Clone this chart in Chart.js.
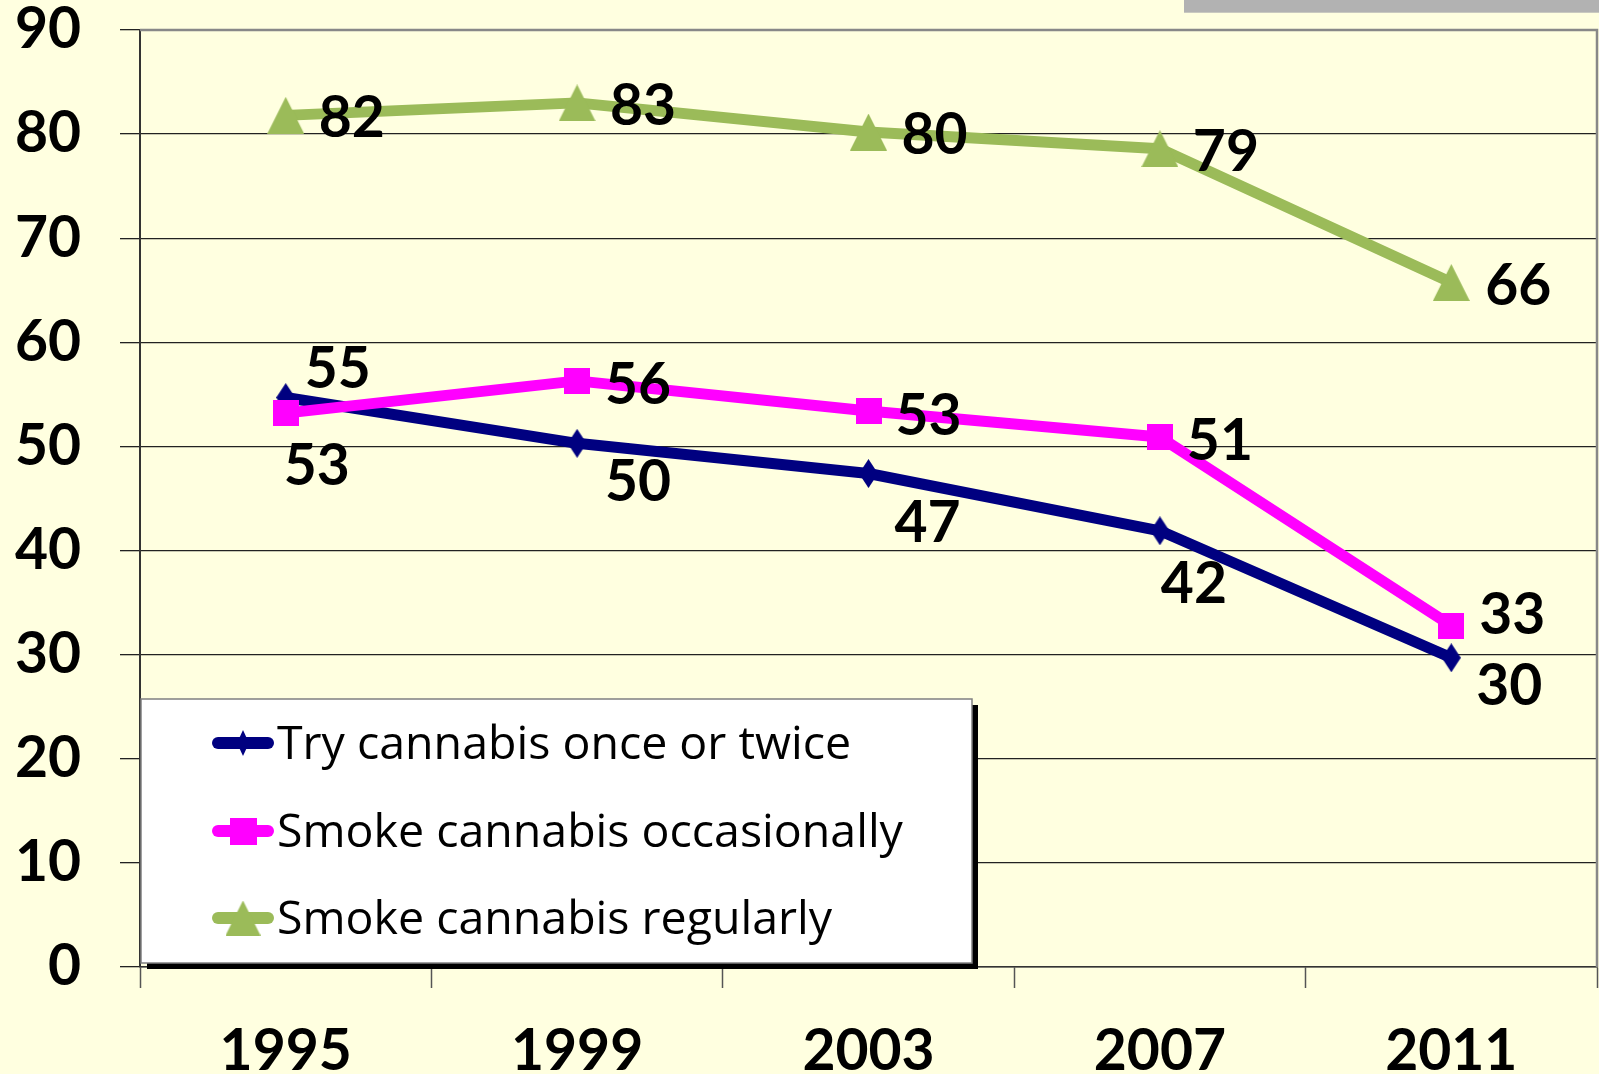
<!DOCTYPE html>
<html><head><meta charset="utf-8">
<script src="https://cdn.jsdelivr.net/npm/chart.js@4"></script>
<style>html,body{margin:0;padding:0;background:#FFFFE0;overflow:hidden}#wrap{width:1599px;height:1074px;position:relative}</style>
</head><body><div id="wrap"><canvas id="c" width="1599" height="1074"></canvas></div>
<script>
// ---- data ----
const categories = ['1995', '1999', '2003', '2007', '2011'];
const tryOnceOrTwice = [54.7, 50.3, 47.4, 41.9, 29.7];
const smokeOccasionally = [53.2, 56.3, 53.4, 50.9, 32.8];
const smokeRegularly = [81.8, 83.0, 80.2, 78.6, 65.75];
const seriesNames = ['Try cannabis once or twice', 'Smoke cannabis occasionally', 'Smoke cannabis regularly'];
const yMin = 0, yMax = 90, yStep = 10;

// ---- styles ----
const BG = '#FFFFE0';
const COLORS = ['#000080', '#FF00FF', '#9BBB59'];
const FONT = 'Lato';
const LEGEND_FONT = '"Open Sans"';
const NUM_SIZE = 57;

function makeMarker(kind, w, h, color) {
  const c = document.createElement('canvas');
  c.width = w; c.height = h;
  const g = c.getContext('2d');
  g.fillStyle = color;
  g.beginPath();
  if (kind === 'diamond') { g.moveTo(w / 2, 0); g.lineTo(w, h / 2); g.lineTo(w / 2, h); g.lineTo(0, h / 2); }
  else if (kind === 'square') { g.rect(0, 0, w, h); }
  else { g.moveTo(w / 2, 0); g.lineTo(w, h); g.lineTo(0, h); }
  g.closePath(); g.fill();
  return c;
}

// label offsets (px) relative to each point, per series
const labelOffsets = [
  [[52, -31], [61, 37], [59, 47], [34, 51], [58, 26]],
  [[31, 51], [61, 2], [60, 2.5], [60, 2], [61, -13]],
  [[66, 1], [66, 1], [66, 1], [66, 1], [67, 1.5]]
];

const bgPlugin = {
  id: 'bg',
  beforeDraw(chart) {
    const ctx = chart.ctx;
    ctx.save();
    ctx.fillStyle = BG;
    ctx.fillRect(0, 0, chart.width, chart.height);
    ctx.fillStyle = '#B2B2B2';
    ctx.fillRect(1184, 0, chart.width - 1184, 12.7);
    ctx.restore();
  },
  beforeDatasetsDraw(chart) {
    const ctx = chart.ctx, a = chart.chartArea;
    ctx.save();
    ctx.strokeStyle = '#888888';
    ctx.lineWidth = 2.5;
    ctx.beginPath();
    ctx.moveTo(a.left, a.top); ctx.lineTo(a.right, a.top); ctx.lineTo(a.right, a.bottom);
    ctx.stroke();
    ctx.restore();
  }
};

const labelPlugin = {
  id: 'vlabels',
  afterDatasetsDraw(chart) {
    const ctx = chart.ctx;
    ctx.save();
    ctx.font = 'bold ' + NUM_SIZE + 'px ' + FONT;
    ctx.fillStyle = '#000';
    ctx.textAlign = 'center';
    ctx.textBaseline = 'alphabetic';
    chart.data.datasets.forEach((ds, i) => {
      const meta = chart.getDatasetMeta(i);
      meta.data.forEach((pt, j) => {
        const txt = String(Math.round(ds.data[j]));
        const m = ctx.measureText(txt);
        const off = labelOffsets[i][j];
        ctx.fillText(txt, pt.x + off[0], pt.y + off[1] + m.actualBoundingBoxAscent / 2);
      });
    });
    ctx.restore();
  }
};

const legendPlugin = {
  id: 'customLegend',
  afterDraw(chart) {
    const ctx = chart.ctx;
    const L = 141, T = 699, R = 972, B = 963;
    ctx.save();
    ctx.fillStyle = '#000';
    ctx.fillRect(L + 6, T + 6, R - L, B - T);
    ctx.fillStyle = '#FFFFFF';
    ctx.fillRect(L, T, R - L, B - T);
    ctx.strokeStyle = '#808080';
    ctx.lineWidth = 1.5;
    ctx.strokeRect(L, T, R - L, B - T);
    const rows = [743, 831, 918];
    const markers = [makeMarker('diamond', 12, 26, COLORS[0]), makeMarker('square', 27, 27, COLORS[1]), makeMarker('triangle', 35, 35, COLORS[2])];
    chart.data.datasets.forEach((ds, i) => {
      const y = rows[i];
      ctx.strokeStyle = ds.borderColor;
      ctx.lineWidth = 12;
      ctx.lineCap = 'round';
      ctx.beginPath(); ctx.moveTo(218, y); ctx.lineTo(268, y); ctx.stroke();
      const mk = markers[i];
      ctx.drawImage(mk, 243 - mk.width / 2, y - mk.height / 2);
      ctx.fillStyle = '#000';
      ctx.font = '46.5px ' + LEGEND_FONT;
      ctx.textAlign = 'left';
      ctx.textBaseline = 'alphabetic';
      ctx.fillText(ds.label, 277, y + 16);
    });
    ctx.restore();
  }
};

function build() {
  new Chart(document.getElementById('c'), {
    type: 'line',
    data: {
      labels: categories,
      datasets: [
        { label: seriesNames[0], data: tryOnceOrTwice, borderColor: COLORS[0], backgroundColor: COLORS[0], borderWidth: 11, pointStyle: makeMarker('diamond', 19, 29, COLORS[0]), order: 3 },
        { label: seriesNames[1], data: smokeOccasionally, borderColor: COLORS[1], backgroundColor: COLORS[1], borderWidth: 11, pointStyle: makeMarker('square', 26, 26, COLORS[1]), order: 2 },
        { label: seriesNames[2], data: smokeRegularly, borderColor: COLORS[2], backgroundColor: COLORS[2], borderWidth: 11, pointStyle: makeMarker('triangle', 37, 37, COLORS[2]), order: 1 }
      ]
    },
    options: {
      responsive: false,
      animation: false,
      devicePixelRatio: 1,
      layout: { autoPadding: false, padding: { top: 30, right: 2, left: 0, bottom: 0 } },
      elements: { line: { tension: 0, borderJoinStyle: 'round', borderCapStyle: 'round' }, point: { radius: 12 } },
      plugins: { legend: { display: false }, tooltip: { enabled: false } },
      scales: {
        x: {
          offset: true,
          afterFit(s) { s.height = 107; s.paddingLeft = 0; s.paddingRight = 0; },
          grid: { drawOnChartArea: false, drawTicks: true, tickLength: 21, tickColor: '#555555', tickWidth: 1.5, offset: true },
          border: { display: true, color: '#333333', width: 1.5 },
          ticks: { color: '#000', padding: 35, font: { family: FONT, size: NUM_SIZE, weight: 'bold', lineHeight: 1 } }
        },
        y: {
          min: yMin, max: yMax,
          afterFit(s) { s.width = 140; s.paddingTop = 0; s.paddingBottom = 0; },
          grid: { color: '#222222', lineWidth: 1.3, drawTicks: true, tickLength: 20, tickColor: '#222222' },
          border: { display: true, color: '#333333', width: 2 },
          ticks: { stepSize: yStep, color: '#000', padding: 39, font: { family: FONT, size: NUM_SIZE, weight: 'bold', lineHeight: 1 } }
        }
      }
    },
    plugins: [bgPlugin, labelPlugin, legendPlugin]
  });
}

Promise.all([
  document.fonts.load('bold 57px Lato'),
  document.fonts.load('46.5px "Open Sans"')
]).then(build, build);
</script>
</body></html>
